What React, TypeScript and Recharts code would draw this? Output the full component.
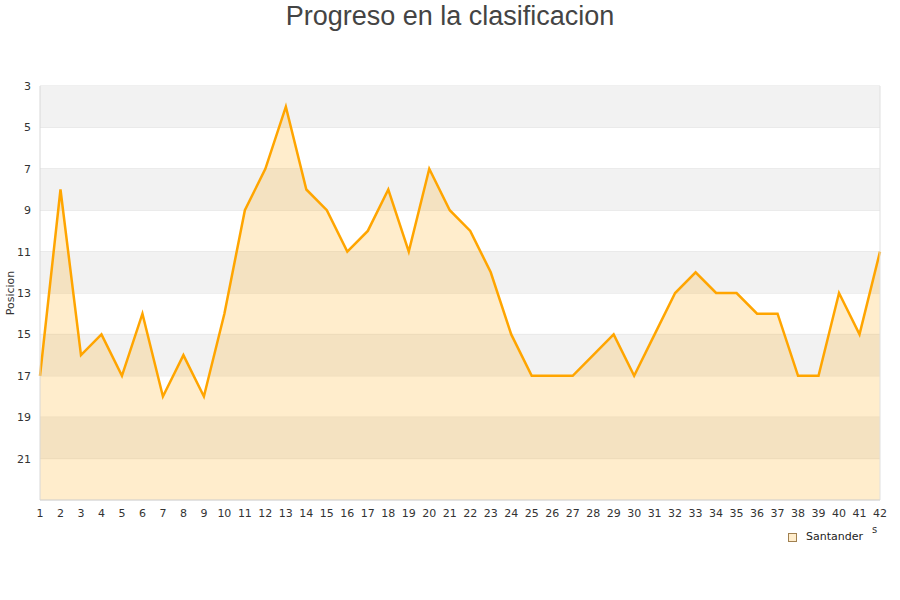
import {
  Area,
  AreaChart,
  CartesianGrid,
  ReferenceArea,
  ReferenceLine,
  XAxis,
  YAxis,
} from "recharts";

const JORNADAS = Array.from({ length: 42 }, (_, i) => i + 1);
const POSICION = [
  17, 8, 16, 15, 17, 14, 18, 16, 18, 14, 9, 7, 4, 8, 9, 11, 10, 8, 11, 7, 9,
  10, 12, 15, 17, 17, 17, 16, 15, 17, 15, 13, 12, 13, 13, 14, 14, 17, 17, 13,
  15, 11,
];
const Y_TICKS = [3, 5, 7, 9, 11, 13, 15, 17, 19, 21];
// shaded bands [from, to]
const BANDS: [number, number][] = [
  [3, 5],
  [7, 9],
  [11, 13],
  [15, 17],
  [19, 21],
];

const ORANGE = "#ffa500";
const FONT = "'DejaVu Sans', Verdana, sans-serif";

const data = JORNADAS.map((j, i) => ({ jornada: j, Santander: POSICION[i] }));

export default function App() {
  return (
    <div style={{ position: "absolute", left: 0, top: 0, width: 900, height: 600, background: "#fff" }}>
      <div
        style={{
          position: "absolute",
          top: 0,
          width: 900,
          textAlign: "center",
          fontFamily: "'Liberation Sans', Arial, sans-serif",
          fontSize: 27,
          color: "#444",
          lineHeight: "32px",
        }}
      >
        Progreso en la clasificacion
      </div>
      <AreaChart
        width={900}
        height={600}
        data={data}
        margin={{ top: 86, right: 20, left: 0, bottom: 70 }}
      >
        {BANDS.map(([a, b]) => (
          <ReferenceArea key={a} y1={a} y2={b} fill="#f2f2f2" fillOpacity={1} stroke="none" />
        ))}
        <CartesianGrid vertical={false} stroke="#e0e0e0" />
        <XAxis
          dataKey="jornada"
          type="number"
          domain={[1, 42]}
          ticks={JORNADAS}
          interval={0}
          tickLine={false}
          tickSize={0}
          axisLine={{ stroke: "#d8d8d8" }}
          tick={{ fontSize: 11, fill: "#333", fontFamily: FONT }}
          tickMargin={9}
        />
        <YAxis
          type="number"
          domain={[3, 23]}
          reversed
          ticks={Y_TICKS}
          interval={0}
          width={40}
          tickLine={false}
          tickSize={0}
          axisLine={{ stroke: "#d8d8d8" }}
          tick={{ fontSize: 11, fill: "#333", fontFamily: FONT }}
          tickMargin={9}
          label={{
            value: "Posicion",
            angle: -90,
            position: "insideLeft",
            dx: 5,
            style: { fontSize: 11, fill: "#333", fontFamily: FONT, textAnchor: "middle" },
          }}
        />
        <ReferenceLine x={42} stroke="#e0e0e0" />
        <Area
          type="linear"
          dataKey="Santander"
          baseValue="dataMax"
          stroke={ORANGE}
          strokeWidth={2.5}
          fill={ORANGE}
          fillOpacity={0.2}
          dot={false}
          activeDot={false}
          isAnimationActive={false}
        />
      </AreaChart>
      <div
        style={{
          position: "absolute",
          left: 788,
          top: 530,
          display: "flex",
          alignItems: "center",
          gap: 9,
          fontFamily: FONT,
          fontSize: 11,
          color: "#222",
          lineHeight: "14px",
        }}
      >
        <span
          style={{
            width: 7,
            height: 7,
            background: "#ffedcc",
            border: "1px solid #a08050",
          }}
        />
        <span>Santander</span>
      </div>
      <div
        style={{
          position: "absolute",
          left: 872,
          top: 524,
          fontFamily: FONT,
          fontSize: 10,
          color: "#333",
        }}
      >
        s
      </div>
    </div>
  );
}
